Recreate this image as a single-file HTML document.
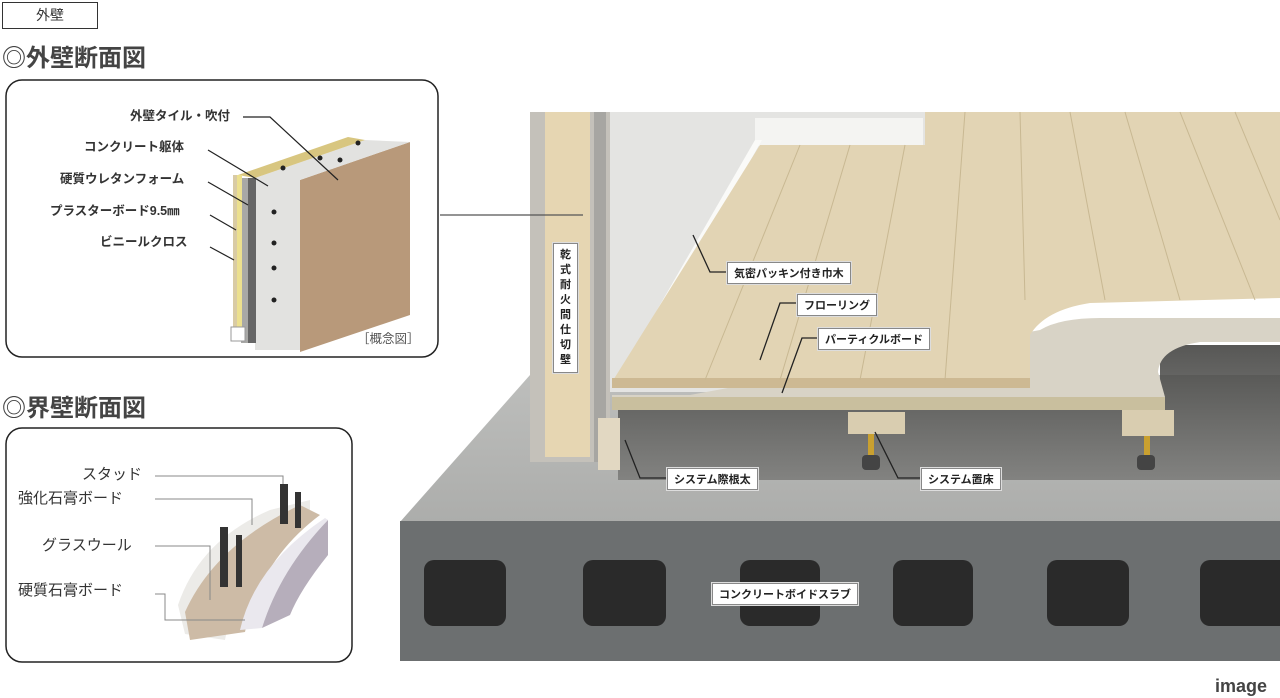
<!DOCTYPE html>
<html><head><meta charset="utf-8"><style>
body{margin:0;width:1280px;height:698px;background:#fff;overflow:hidden;position:relative;font-family:"Liberation Sans","Noto Sans CJK JP",sans-serif}
.a{position:absolute}
.lb{position:absolute;background:#fff;border:1px solid #888;font-size:11px;font-weight:bold;color:#222;padding:2px 6px;white-space:nowrap;box-shadow:0 0 0 1px #ddd}
</style></head><body>
<svg class="a" style="left:0;top:0" width="1280" height="698">
<defs>
<linearGradient id="cg" x1="0" y1="0" x2="0" y2="1"><stop offset="0" stop-color="#bdbebc"/><stop offset="1" stop-color="#acadab"/></linearGradient>
<linearGradient id="dk" x1="0" y1="0" x2="0" y2="1"><stop offset="0" stop-color="#3a3a38"/><stop offset="1" stop-color="#7a7a78"/></linearGradient>
</defs>
<polygon points="400,522 530,375 1280,375 1280,522" fill="url(#cg)"/>
<polygon points="618,410 1160,410 1160,345 1280,345 1280,480 618,480" fill="url(#dk)" opacity="0.85"/>
<rect x="400" y="521" width="880" height="140" fill="#6c6f70"/>
<g fill="#2a2a2a">
<rect x="424" y="560" width="82" height="66" rx="10"/>
<rect x="583" y="560" width="83" height="66" rx="10"/>
<rect x="740" y="560" width="80" height="66" rx="10"/>
<rect x="893" y="560" width="80" height="66" rx="10"/>
<rect x="1047" y="560" width="82" height="66" rx="10"/>
<rect x="1200" y="560" width="90" height="66" rx="10"/>
</g>
<!-- wall -->
<rect x="608" y="112" width="320" height="280" fill="#e4e4e2"/>
<rect x="755" y="118" width="168" height="28" fill="#f4f4f2"/>
<polygon points="755,140 762,140 622,388 612,388" fill="#fafaf8"/>
<!-- particle board -->
<path d="M612,395 L690,395 L1040,330 Q1060,318 1100,318 L1280,318 L1280,342 L1200,342 Q1160,348 1158,372 L1165,397 L1165,410 L612,410 Z" fill="#d8d3c6"/>
<rect x="612" y="397" width="553" height="13" fill="#c9bf9e"/>
<!-- flooring -->
<path d="M612,382 L760,145 L925,145 L925,112 L1280,112 L1280,298 L1090,303 Q1045,310 1030,335 L1030,388 L612,388 Z" fill="#e2d4b4"/>
<rect x="612" y="378" width="418" height="10" fill="#cdb993"/>
<g stroke="#c8b892" stroke-width="1">
<line x1="705" y1="380" x2="800" y2="145"/><line x1="780" y1="380" x2="850" y2="145"/><line x1="860" y1="380" x2="905" y2="145"/>
<line x1="945" y1="380" x2="965" y2="112"/><line x1="1020" y1="112" x2="1025" y2="300"/><line x1="1070" y1="112" x2="1105" y2="300"/>
<line x1="1125" y1="112" x2="1180" y2="300"/><line x1="1180" y1="112" x2="1255" y2="300"/><line x1="1235" y1="112" x2="1280" y2="220"/>
</g>
<!-- pillar -->
<rect x="530" y="112" width="80" height="350" fill="#c4c1ba"/>
<rect x="545" y="112" width="45" height="345" fill="#e6d6b2"/>
<rect x="594" y="112" width="12" height="350" fill="#a7a6a2"/>
<rect x="598" y="418" width="22" height="52" fill="#e2d8c2"/>
<rect x="848" y="412" width="57" height="22" fill="#d9cdb0"/>
<rect x="1122" y="410" width="52" height="26" fill="#d9cdb0"/>
<rect x="868" y="434" width="6" height="24" fill="#c9a030"/><rect x="1144" y="436" width="6" height="22" fill="#c9a030"/>
<rect x="862" y="455" width="18" height="15" rx="4" fill="#444"/><rect x="1137" y="455" width="18" height="15" rx="4" fill="#444"/>
<g stroke="#222" stroke-width="1.3" fill="none">
<line x1="440" y1="215" x2="583" y2="215" stroke="#555"/>
<polyline points="727,272 710,272 693,235"/><polyline points="797,303 780,303 760,360"/><polyline points="818,338 802,338 782,393"/>
<polyline points="667,478 640,478 625,440"/><polyline points="921,478 898,478 875,432"/>
</g>
<!-- exterior wall diagram -->
<rect x="6" y="80" width="432" height="277" rx="16" fill="#fff" stroke="#222" stroke-width="1.5"/>
<polygon points="300,180 410,142 410,315 300,352" fill="#b8997a"/>
<polygon points="255,178 365,140 410,142 300,180" fill="#e2e2e0"/>
<polygon points="238,175 348,137 365,140 255,178" fill="#d8c680"/>
<rect x="255" y="178" width="45" height="172" fill="#e2e2e0"/>
<rect x="248" y="178" width="8" height="165" fill="#666"/>
<rect x="241" y="178" width="7" height="165" fill="#a8a8a6"/>
<rect x="237" y="175" width="5" height="152" fill="#ece08e"/>
<rect x="233" y="175" width="4" height="155" fill="#d9cba4"/>
<rect x="231" y="327" width="14" height="14" fill="#fff" stroke="#999"/>
<g fill="#222"><circle cx="274" cy="212" r="2.5"/><circle cx="274" cy="243" r="2.5"/><circle cx="274" cy="268" r="2.5"/><circle cx="274" cy="300" r="2.5"/><circle cx="283" cy="168" r="2.5"/><circle cx="320" cy="158" r="2.5"/><circle cx="358" cy="143" r="2.5"/><circle cx="340" cy="160" r="2.5"/></g>
<g stroke="#222" stroke-width="1.2">
<polyline points="243,117 270,117 338,180" fill="none"/><line x1="208" y1="150" x2="268" y2="186"/><line x1="208" y1="182" x2="248" y2="205"/><line x1="210" y1="215" x2="236" y2="230"/><line x1="210" y1="247" x2="234" y2="260"/>
</g>
<!-- partition wall diagram -->
<rect x="6" y="428" width="346" height="234" rx="16" fill="#fff" stroke="#222" stroke-width="1.5"/>
<path d="M178,605 Q200,540 270,510 L310,500 L310,520 Q240,560 225,640 L185,634 Z" fill="#ecebe8"/>
<path d="M185,612 Q215,545 300,505 L320,515 Q260,560 245,632 L190,640 Z" fill="#cdbba6"/>
<path d="M240,630 Q255,565 325,518 L328,520 Q280,570 262,628 Z" fill="#eae8ee"/>
<path d="M262,628 Q280,570 328,520 L328,555 Q300,590 290,615 Z" fill="#b6aebb"/>
<g fill="#333"><rect x="220" y="527" width="8" height="60"/><rect x="236" y="535" width="6" height="52"/><rect x="280" y="484" width="8" height="40"/><rect x="295" y="492" width="6" height="36"/></g>
<g stroke="#888" stroke-width="1" fill="none">
<polyline points="155,476 283,476 283,484"/><polyline points="155,499 252,499 252,525"/><polyline points="155,546 210,546 210,600"/><polyline points="155,594 165,594 165,620 245,620"/>
</g>
</svg>
<div class="a" style="left:2px;top:2px;width:94px;height:25px;border:1.5px solid #333;font-size:14px;text-align:center;line-height:25px;color:#333">外壁</div>
<div class="a" style="left:2px;top:38px;font-size:24px;font-weight:bold;color:#444">◎外壁断面図</div>
<div class="a" style="left:2px;top:388px;font-size:24px;font-weight:bold;color:#444">◎界壁断面図</div>
<div class="a" style="font-size:12.5px;color:#333;font-weight:bold;line-height:1">
<div class="a" style="left:130px;top:110px;white-space:nowrap">外壁タイル・吹付</div>
<div class="a" style="left:84px;top:141px;white-space:nowrap">コンクリート躯体</div>
<div class="a" style="left:60px;top:173px;white-space:nowrap">硬質ウレタンフォーム</div>
<div class="a" style="left:50px;top:205px;white-space:nowrap">プラスターボード9.5㎜</div>
<div class="a" style="left:100px;top:236px;white-space:nowrap">ビニールクロス</div>
<div class="a" style="left:357px;top:333px;white-space:nowrap;font-weight:normal;color:#555">［概念図］</div>
</div>
<div class="a" style="font-size:15px;color:#333;line-height:1">
<div class="a" style="left:82px;top:467px;white-space:nowrap">スタッド</div>
<div class="a" style="left:18px;top:491px;white-space:nowrap">強化石膏ボード</div>
<div class="a" style="left:42px;top:538px;white-space:nowrap">グラスウール</div>
<div class="a" style="left:18px;top:583px;white-space:nowrap">硬質石膏ボード</div>
</div>
<div class="lb" style="left:553px;top:243px;width:17px;padding:4px 3px;white-space:normal;text-align:center;line-height:15px;font-size:11px">乾式耐火間仕切壁</div>
<div class="lb" style="left:727px;top:262px">気密パッキン付き巾木</div>
<div class="lb" style="left:797px;top:294px">フローリング</div>
<div class="lb" style="left:818px;top:328px">パーティクルボード</div>
<div class="lb" style="left:667px;top:468px">システム際根太</div>
<div class="lb" style="left:921px;top:468px">システム置床</div>
<div class="lb" style="left:712px;top:583px">コンクリートボイドスラブ</div>
<div class="a" style="left:1215px;top:676px;font-size:18px;font-weight:bold;color:#444">image</div>
</body></html>
